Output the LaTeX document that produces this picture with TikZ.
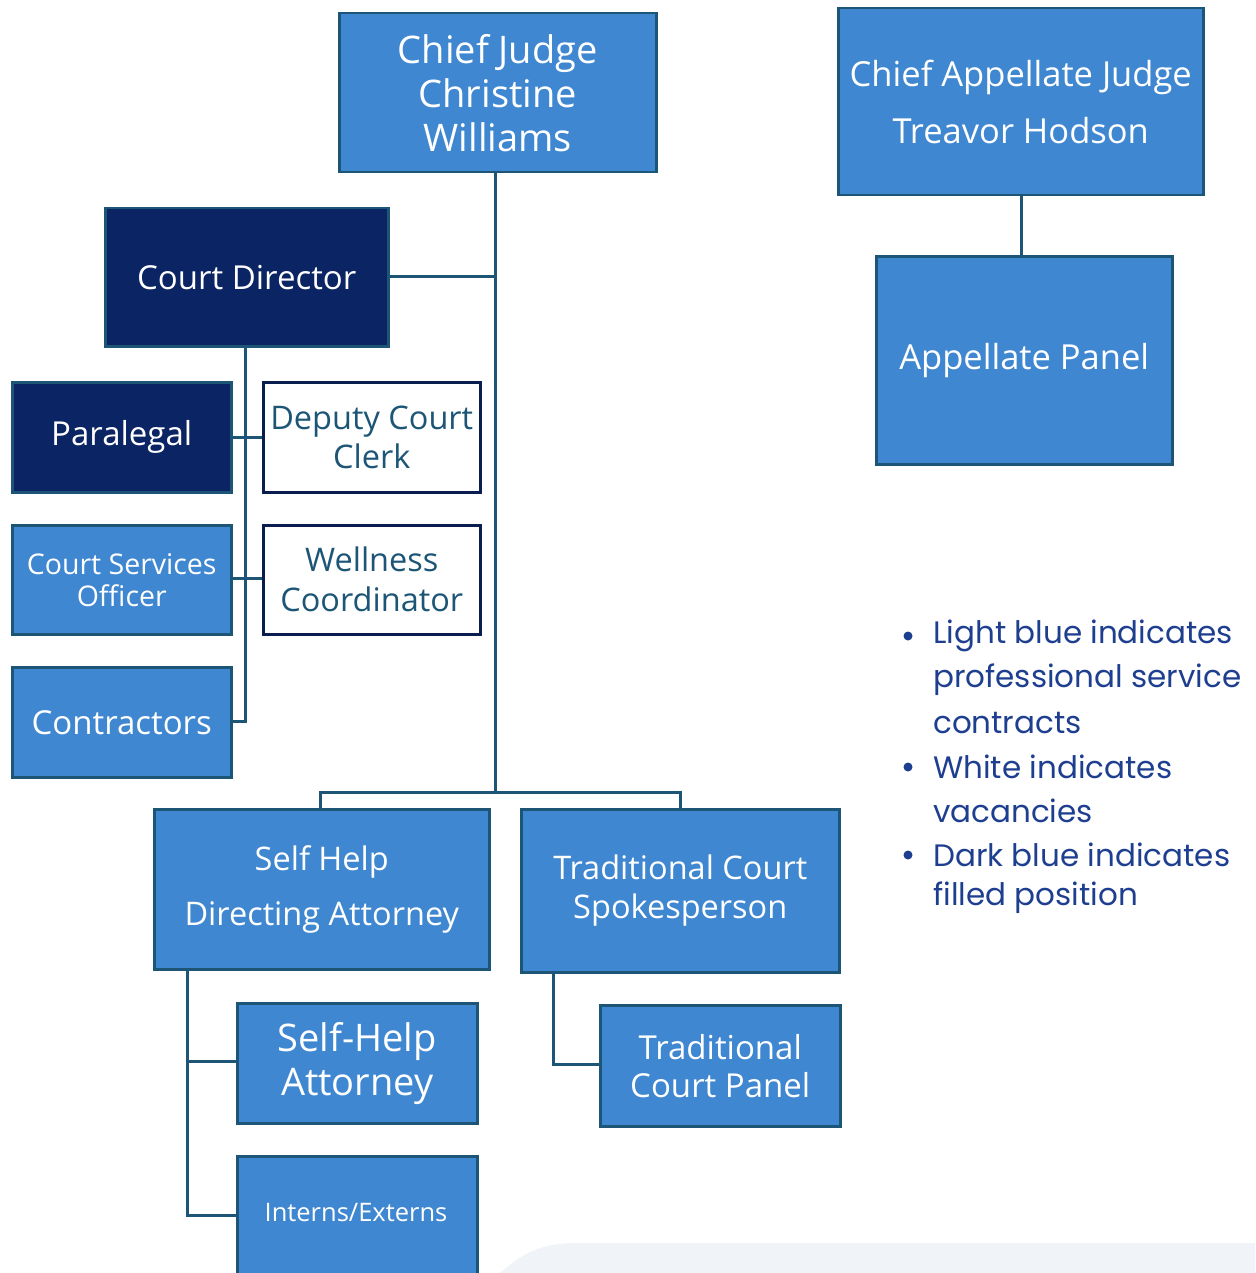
\documentclass[tikz,border=0pt]{standalone}
\usepackage{fontspec}
\setmainfont{Open Sans}
\newfontfamily\legendfont{Poppins}
\definecolor{midblue}{HTML}{3F87D0}
\definecolor{navy}{HTML}{0B2463}
\definecolor{lineteal}{HTML}{1D5577}
\definecolor{legendblue}{HTML}{1E3F8F}
\definecolor{bggray}{HTML}{F0F3F8}
\tikzset{
  box/.style={draw=lineteal, line width=2.5pt, anchor=north west, inner sep=0pt, align=center, text=white},
  bluebox/.style={box, fill=midblue},
  navybox/.style={box, fill=navy},
  whitebox/.style={box, fill=white, draw=navy!80!black, text=lineteal},
  conn/.style={draw=lineteal, line width=3pt},
  legendtxt/.style={anchor=west, inner sep=0pt, text=legendblue, font=\legendfont\fontsize{31}{36}\selectfont}
}
\begin{document}
\begin{tikzpicture}[x=1pt,y=-1pt]
\useasboundingbox (0,0) rectangle (1255,1273);
% background shape
\fill[bggray] (500,1273) .. controls (520,1255) and (540,1243) .. (575,1243) -- (1255,1243) -- (1255,1273) -- cycle;

% connectors
\coordinate (trunkTop) at (495,171);
\coordinate (trunkBot) at (495,792);
\coordinate (cdj) at (495,276);
\coordinate (barL) at (320,792);
\coordinate (barR) at (680,792);
\draw[conn] (trunkTop) -- (trunkBot);
\draw[conn] (barL) -- (barR);
\draw[conn] (389,276) -- (cdj);
\coordinate (subTop) at (245,345);
\coordinate (subBot) at (245,721);
\draw[conn] (subTop) -- (subBot) -- (230,721);
\draw[conn] (230,437) -- (262,437);
\draw[conn] (230,578) -- (262,578);
\draw[conn] (320,790.5) -- (320,808);
\draw[conn] (680,790.5) -- (680,808);
\draw[conn] (187,968) -- (187,1215) -- (236,1215);
\draw[conn] (187,1061) -- (236,1061);
\draw[conn] (553,971) -- (553,1064) -- (599,1064);
\draw[conn] (1021,194) -- (1021,255);

% boxes
\node[bluebox, minimum width=317pt, minimum height=159pt, font=\fontsize{38}{44}\selectfont] (cj) at (338,12) {Chief Judge\\Christine\\Williams};
\node[bluebox, minimum width=365pt, minimum height=187pt, font=\fontsize{34.5}{57}\selectfont] (caj) at (837,7) {Chief Appellate Judge\\Treavor Hodson};
\node[bluebox, minimum width=296pt, minimum height=208pt, font=\fontsize{34.5}{36}\selectfont] (ap) at (875,255) {Appellate Panel};
\node[navybox, minimum width=283pt, minimum height=138pt, font=\fontsize{33}{36}\selectfont] (cd) at (104,207) {Court Director};
\node[navybox, minimum width=219pt, minimum height=110pt, font=\fontsize{33}{36}\selectfont] (para) at (11,381) {Paralegal};
\node[whitebox, minimum width=217pt, minimum height=110pt, font=\fontsize{32.5}{39}\selectfont] (dcc) at (262,381) {Deputy Court\\Clerk};
\node[bluebox, minimum width=219pt, minimum height=109pt, font=\fontsize{28.5}{32}\selectfont] (cso) at (11,524) {Court Services\\Officer};
\node[whitebox, minimum width=217pt, minimum height=109pt, font=\fontsize{32.5}{40}\selectfont] (wc) at (262,524) {Wellness\\Coordinator};
\node[bluebox, minimum width=219pt, minimum height=110pt, font=\fontsize{33}{36}\selectfont] (con) at (11,666) {Contractors};
\node[bluebox, minimum width=335pt, minimum height=160pt, font=\fontsize{32.5}{55}\selectfont] (shda) at (153,808) {Self Help\\Directing Attorney};
\node[bluebox, minimum width=318pt, minimum height=163pt, font=\fontsize{32.5}{39}\selectfont] (tcs) at (520,808) {Traditional Court\\Spokesperson};
\node[bluebox, minimum width=240pt, minimum height=120pt, font=\fontsize{38}{44}\selectfont] (sha) at (236,1002) {Self-Help\\Attorney};
\node[bluebox, minimum width=240pt, minimum height=121pt, font=\fontsize{33}{38}\selectfont] (tcp) at (599,1004) {Traditional\\Court Panel};
\node[bluebox, minimum width=240pt, minimum height=125pt, anchor=north west] (ie) at (236,1155) {};
\node[text=white, font=\fontsize{25.5}{28}\selectfont, inner sep=0pt] (ietxt) at (356,1213) {Interns/Externs};

% legend
\foreach \y/\t in {636/Light blue indicates, 680/professional service, 723/contracts, 767/White indicates, 811/vacancies, 855/Dark blue indicates, 898/filled position}{
  \node[legendtxt] at (933,\y) {\t};
}
\foreach \y in {636,767,855}{
  \fill[legendblue] (908,\y) circle (4.5pt);
}
\end{tikzpicture}
\end{document}
